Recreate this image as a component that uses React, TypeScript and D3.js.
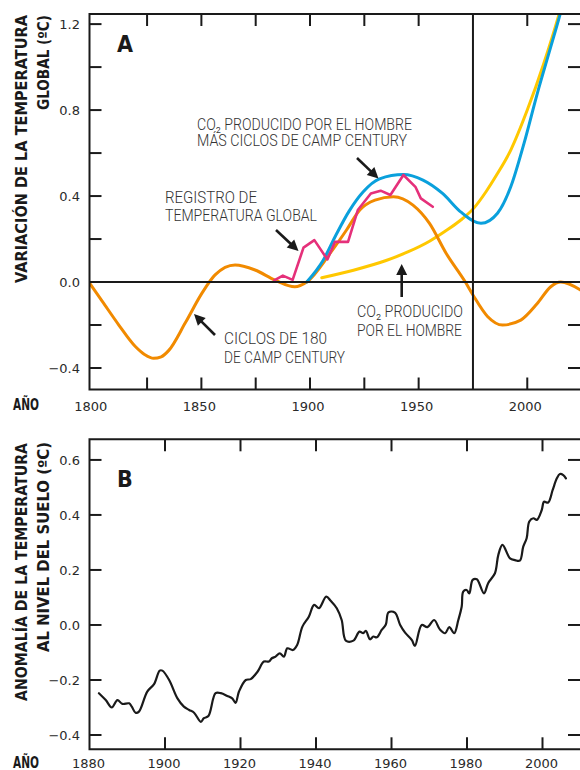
import React from "react";
import * as d3 from "d3";

// ---------- Panel A data ----------
const cycleYears = [1798.5, 1804.4, 1812, 1819.6, 1824, 1828, 1831.5, 1835, 1842.6, 1850.2, 1856.3, 1865.5, 1874.7, 1883.9, 1893, 1898.5, 1909.2, 1916.8, 1922.9, 1929.9, 1938.4, 1947.4, 1955, 1962.7, 1971.5, 1975, 1981.7, 1988.6, 1997, 2004.6, 2010.8, 2015.4, 2024.5];
const cycleValues = [-0.005, -0.09, -0.2, -0.3, -0.338, -0.355, -0.348, -0.318, -0.19, -0.053, 0.033, 0.079, 0.056, 0.009, -0.022, 0.0, 0.133, 0.242, 0.335, 0.381, 0.397, 0.358, 0.273, 0.133, 0.0, -0.06, -0.16, -0.2, -0.177, -0.1, -0.022, 0.0, -0.037];

const combinedYears = [1898.5, 1906, 1912, 1918, 1924.5, 1932, 1943, 1952, 1961, 1969.5, 1978.7, 1986.3, 1992.4, 1998.5, 2004.6, 2010.8, 2015, 2018];
const combinedValues = [0.0, 0.1, 0.22, 0.33, 0.42, 0.48, 0.5, 0.474, 0.412, 0.325, 0.273, 0.32, 0.443, 0.645, 0.877, 1.094, 1.242, 1.36];

const co2Years = [1905.4, 1920, 1935, 1945, 1955, 1962, 1969, 1975.5, 1981, 1986, 1992.4, 2000, 2007.6, 2014.5, 2020];
const co2Values = [0.02, 0.055, 0.1, 0.14, 0.19, 0.235, 0.285, 0.345, 0.42, 0.5, 0.614, 0.8, 1.017, 1.242, 1.45];

const recordYears = [1883.5, 1887.5, 1892, 1897, 1902, 1908, 1911.5, 1917.5, 1922, 1928, 1932.5, 1937, 1943, 1948.5, 1951, 1956.5];
const recordValues = [0.008, 0.03, 0.01, 0.16, 0.195, 0.105, 0.187, 0.187, 0.335, 0.412, 0.425, 0.405, 0.498, 0.443, 0.389, 0.35];

const aYTicks = [-0.4, -0.2, 0.2, 0.4, 0.6, 0.8, 1.0, 1.2];
const aYLabels = [-0.4, 0.0, 0.4, 0.8, 1.2];
const aXTicks = [1825, 1850, 1875, 1900, 1925, 1950, 2000];
const aXLabels = [1800, 1850, 1900, 1950, 2000];
const aMarkerYear = 1975;

// ---------- Panel B data ----------
const landYears = [1882.5, 1884.3, 1885.9, 1887.4, 1888.7, 1890.5, 1891.2, 1892.2, 1893.1, 1895.3, 1897.1, 1898.6, 1899.3, 1901.1, 1903.3, 1905, 1906.4, 1907.7, 1909.5, 1910.3, 1911.5, 1913.4, 1914.8, 1916.5, 1917.8, 1918.7, 1919.6, 1921.4, 1922.7, 1924.5, 1926.2, 1927.5, 1928.3, 1929.3, 1930.4, 1931.5, 1932.4, 1933.9, 1935.0, 1936.4, 1938.1, 1939.5, 1940.8, 1942.7, 1943.9, 1945.5, 1946.8, 1947.9, 1949.9, 1951.5, 1952.5, 1953.2, 1954.3, 1955.2, 1956.1, 1957.4, 1958.5, 1959.2, 1960.9, 1962.3, 1963.6, 1965.4, 1966.2, 1968, 1969.5, 1971.3, 1972.8, 1974.2, 1975.3, 1976.6, 1977.7, 1978.6, 1979, 1979.9, 1980.6, 1981.5, 1982.6, 1984.5, 1985.6, 1987.4, 1988.3, 1989.4, 1991.4, 1992.7, 1994, 1994.9, 1995.8, 1996.5, 1997.6, 1998.5, 1999.8, 2000.4, 2001.5, 2002.7, 2003.8, 2004.6, 2005.5, 2006.2];
const landValues = [-0.248, -0.273, -0.3, -0.273, -0.287, -0.285, -0.297, -0.319, -0.315, -0.242, -0.215, -0.166, -0.166, -0.2, -0.267, -0.297, -0.309, -0.319, -0.352, -0.339, -0.331, -0.248, -0.248, -0.258, -0.267, -0.283, -0.242, -0.2, -0.197, -0.17, -0.133, -0.133, -0.121, -0.115, -0.103, -0.115, -0.085, -0.091, -0.073, -0.006, 0.03, 0.073, 0.061, 0.103, 0.088, 0.061, 0.018, -0.057, -0.057, -0.024, -0.03, -0.021, -0.052, -0.042, -0.045, -0.018, 0.002, 0.046, 0.045, 0.0, -0.028, -0.055, -0.076, 0.0, -0.008, 0.018, -0.016, -0.03, -0.008, -0.03, 0.018, 0.067, 0.121, 0.127, 0.115, 0.164, 0.166, 0.115, 0.152, 0.188, 0.255, 0.291, 0.242, 0.236, 0.234, 0.285, 0.315, 0.376, 0.388, 0.382, 0.418, 0.448, 0.445, 0.491, 0.533, 0.549, 0.545, 0.533];

const bYTicks = [-0.4, -0.2, 0.0, 0.2, 0.4, 0.6];
const bXTicks = [1900, 1920, 1940, 1960, 1980, 2000];
const bXLabels = [1880, 1900, 1920, 1940, 1960, 1980, 2000];

// ---------- styles ----------
const ORANGE = "#F18A00";
const BLUE = "#0AA0DC";
const YELLOW = "#FFC800";
const PINK = "#E5307A";
const INK = "#1a1a1a";
const TICK_FONT = "'DejaVu Sans', sans-serif";
const TITLE_FONT = "'DejaVu Sans', sans-serif";
const NOTE_FONT = "Roboto, 'DejaVu Sans', sans-serif";

const fmt = d3.format(".1f");

function Arrow({ x1, y1, x2, y2 }: { x1: number; y1: number; x2: number; y2: number }) {
  const dx = x2 - x1, dy = y2 - y1;
  const len = Math.hypot(dx, dy);
  const ux = dx / len, uy = dy / len;
  const hl = 11, hw = 5.5;
  const bx = x2 - ux * hl, by = y2 - uy * hl;
  const pts = [
    [x2, y2],
    [bx - uy * hw, by + ux * hw],
    [bx + uy * hw, by - ux * hw],
  ];
  return (
    <g>
      <line x1={x1} y1={y1} x2={bx + ux} y2={by + uy} stroke={INK} strokeWidth={2.6} />
      <polygon points={pts.map((p) => p.join(",")).join(" ")} fill={INK} />
    </g>
  );
}

export default function App() {
  const xA = d3.scaleLinear().domain([1798.5, 2024.5]).range([89.5, 580.5]);
  const yA = d3.scaleLinear().domain([-0.5, 1.247]).range([389.5, 14]);
  const xB = d3.scaleLinear().domain([1880, 2010]).range([89.5, 580.25]);
  const yB = d3.scaleLinear().domain([-0.452, 0.675]).range([749.3, 439.3]);

  const smoothA = d3
    .line<[number, number]>()
    .x((d) => xA(d[0]))
    .y((d) => yA(d[1]))
    .curve(d3.curveMonotoneX);
  const straightA = d3
    .line<[number, number]>()
    .x((d) => xA(d[0]))
    .y((d) => yA(d[1]))
    .curve(d3.curveLinear);
  const smoothB = d3
    .line<[number, number]>()
    .x((d) => xB(d[0]))
    .y((d) => yB(d[1]))
    .curve(d3.curveCatmullRom.alpha(0.5));

  const zip = (a: number[], b: number[]) => a.map((v, i) => [v, b[i]] as [number, number]);

  const aLeft = xA.range()[0], aRight = 580, aTop = yA.range()[1], aBottom = yA.range()[0];
  const bLeft = xB.range()[0], bRight = 580, bTop = yB.range()[1], bBottom = yB.range()[0];
  const TL = 12;

  return (
    <svg
      width={580}
      height={770}
      viewBox="0 0 580 770"
      style={{ position: "absolute", left: 0, top: 0, background: "#fff" }}
    >
      <defs>
        <clipPath id="clipA">
          <rect x={aLeft} y={aTop} width={aRight - aLeft} height={aBottom - aTop} />
        </clipPath>
        <clipPath id="clipB">
          <rect x={bLeft} y={bTop} width={bRight - bLeft} height={bBottom - bTop} />
        </clipPath>
      </defs>
      <rect x={0} y={0} width={580} height={770} fill="#fff" />

      {/* ===== Panel A ===== */}
      <g clipPath="url(#clipA)" fill="none" strokeLinejoin="round" strokeLinecap="round">
        <path d={smoothA(zip(co2Years, co2Values)) || ""} stroke={YELLOW} strokeWidth={3} />
        <path d={smoothA(zip(cycleYears, cycleValues)) || ""} stroke={ORANGE} strokeWidth={3} />
        <path d={smoothA(zip(combinedYears, combinedValues)) || ""} stroke={BLUE} strokeWidth={3} />
        <path d={straightA(zip(recordYears, recordValues)) || ""} stroke={PINK} strokeWidth={2.6} />
      </g>

      <line x1={aLeft} x2={aRight} y1={yA(0)} y2={yA(0)} stroke={INK} strokeWidth={2} />
      <line x1={xA(aMarkerYear)} x2={xA(aMarkerYear)} y1={aTop} y2={aBottom} stroke={INK} strokeWidth={2} />

      <path
        d={`M${aRight + 2},${aTop} H${aLeft} V${aBottom} H${aRight + 2}`}
        fill="none"
        stroke={INK}
        strokeWidth={2}
      />
      {aYTicks.map((v) => (
        <g key={"ayt" + v}>
          <line x1={aLeft} x2={aLeft + TL} y1={yA(v)} y2={yA(v)} stroke={INK} strokeWidth={2} />
          <line x1={aRight - TL} x2={aRight} y1={yA(v)} y2={yA(v)} stroke={INK} strokeWidth={2} />
        </g>
      ))}
      {aXTicks.map((v) => (
        <g key={"axt" + v}>
          <line x1={xA(v)} x2={xA(v)} y1={aTop} y2={aTop + TL} stroke={INK} strokeWidth={2} />
          <line x1={xA(v)} x2={xA(v)} y1={aBottom} y2={aBottom - TL} stroke={INK} strokeWidth={2} />
        </g>
      ))}
      {aYLabels.map((v) => (
        <text key={"ayl" + v} x={80} y={yA(v) + 5} textAnchor="end" fontFamily={TICK_FONT} fontSize={13} fill="#2a2a2a">
          {fmt(v)}
        </text>
      ))}
      {aXLabels.map((v) => (
        <text key={"axl" + v} x={xA(v) - 2} y={411} textAnchor="middle" fontFamily={TICK_FONT} fontSize={13} fill="#2a2a2a">
          {v}
        </text>
      ))}
      <text x={13} y={410} fontFamily={TITLE_FONT} fontWeight="bold" fontSize={16} textLength={26} lengthAdjust="spacingAndGlyphs" fill={INK}>
        AÑO
      </text>
      <text x={117} y={52} fontFamily={TITLE_FONT} fontWeight="bold" fontSize={23} fontStretch="condensed" fill={INK}>
        A
      </text>
      <g fontFamily={TITLE_FONT} fontWeight="bold" fontSize={16} fill={INK} textAnchor="end">
        <text transform="translate(27,15) rotate(-90)" textLength={268} lengthAdjust="spacingAndGlyphs">
          VARIACIÓN DE LA TEMPERATURA
        </text>
        <text transform="translate(48.5,15) rotate(-90)" textLength={95} lengthAdjust="spacingAndGlyphs">
          GLOBAL (ºC)
        </text>
      </g>

      <g fontFamily={NOTE_FONT} fontWeight={300} fontSize={16} fill="#333">
        <text x={197} y={130} textLength={215} lengthAdjust="spacingAndGlyphs">
          CO₂ PRODUCIDO POR EL HOMBRE
        </text>
        <text x={197} y={145.7} textLength={210} lengthAdjust="spacingAndGlyphs">
          MÁS CICLOS DE CAMP CENTURY
        </text>
        <text x={165} y={203} textLength={92} lengthAdjust="spacingAndGlyphs">
          REGISTRO DE
        </text>
        <text x={165} y={221} textLength={152} lengthAdjust="spacingAndGlyphs">
          TEMPERATURA GLOBAL
        </text>
        <text x={224} y={344} textLength={103} lengthAdjust="spacingAndGlyphs">
          CICLOS DE 180
        </text>
        <text x={224} y={362.7} textLength={121} lengthAdjust="spacingAndGlyphs">
          DE CAMP CENTURY
        </text>
        <text x={357} y={317} textLength={106} lengthAdjust="spacingAndGlyphs">
          CO₂ PRODUCIDO
        </text>
        <text x={357} y={336} textLength={105} lengthAdjust="spacingAndGlyphs">
          POR EL HOMBRE
        </text>
      </g>
      <Arrow x1={357} y1={158} x2={378.5} y2={178.5} />
      <Arrow x1={276} y1={230} x2={298.5} y2={251} />
      <Arrow x1={215} y1={335} x2={194} y2={314} />
      <Arrow x1={401.7} y1={297} x2={401.7} y2={264} />

      {/* ===== Panel B ===== */}
      <g clipPath="url(#clipB)" fill="none" strokeLinejoin="round" strokeLinecap="round">
        <path d={smoothB(zip(landYears, landValues)) || ""} stroke={INK} strokeWidth={2.2} />
      </g>
      <path
        d={`M${bRight + 2},${bTop} H${bLeft} V${bBottom} H${bRight + 2}`}
        fill="none"
        stroke={INK}
        strokeWidth={2}
      />
      {bYTicks.map((v) => (
        <g key={"byt" + v}>
          <line x1={bLeft} x2={bLeft + TL} y1={yB(v)} y2={yB(v)} stroke={INK} strokeWidth={2} />
          <line x1={bRight - TL} x2={bRight} y1={yB(v)} y2={yB(v)} stroke={INK} strokeWidth={2} />
          <text x={80} y={yB(v) + 5} textAnchor="end" fontFamily={TICK_FONT} fontSize={13} fill="#2a2a2a">
            {fmt(v)}
          </text>
        </g>
      ))}
      {bXTicks.map((v) => (
        <g key={"bxt" + v}>
          <line x1={xB(v)} x2={xB(v)} y1={bTop} y2={bTop + TL} stroke={INK} strokeWidth={2} />
          <line x1={xB(v)} x2={xB(v)} y1={bBottom} y2={bBottom - TL} stroke={INK} strokeWidth={2} />
        </g>
      ))}
      {bXLabels.map((v) => (
        <text key={"bxl" + v} x={xB(v) - 1} y={767.5} textAnchor="middle" fontFamily={TICK_FONT} fontSize={13} fill="#2a2a2a">
          {v}
        </text>
      ))}
      <text x={13} y={767.5} fontFamily={TITLE_FONT} fontWeight="bold" fontSize={16} textLength={26} lengthAdjust="spacingAndGlyphs" fill={INK}>
        AÑO
      </text>
      <text x={117} y={487} fontFamily={TITLE_FONT} fontWeight="bold" fontSize={23} fontStretch="condensed" fill={INK}>
        B
      </text>
      <g fontFamily={TITLE_FONT} fontWeight="bold" fontSize={16} fill={INK} textAnchor="end">
        <text transform="translate(27,443) rotate(-90)" textLength={258} lengthAdjust="spacingAndGlyphs">
          ANOMALÍA DE LA TEMPERATURA
        </text>
        <text transform="translate(48.5,442) rotate(-90)" textLength={210} lengthAdjust="spacingAndGlyphs">
          AL NIVEL DEL SUELO (ºC)
        </text>
      </g>
    </svg>
  );
}
